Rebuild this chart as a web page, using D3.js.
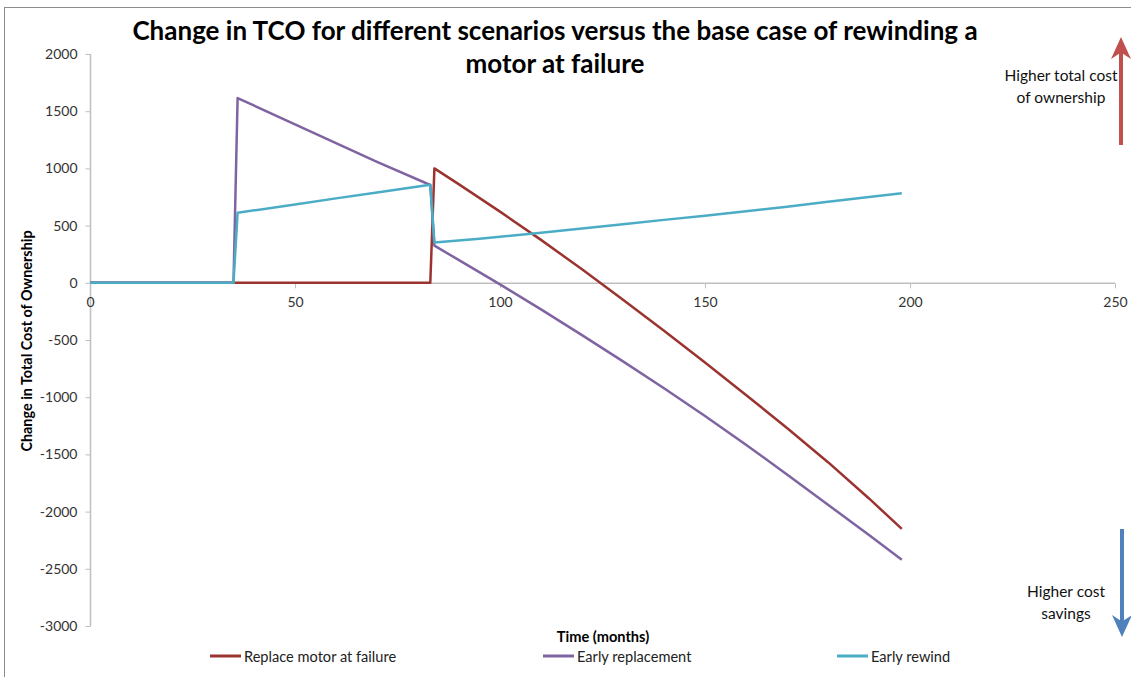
<!DOCTYPE html>
<html>
<head>
<meta charset="utf-8">
<script src="https://cdn.jsdelivr.net/npm/d3@7"></script>
<style>
  html, body { margin: 0; padding: 0; background: #fff; }
  svg { display: block; font-family: Lato, "Open Sans", sans-serif; }
</style>
</head>
<body>
<svg id="chart" width="1131" height="677"></svg>
<script>
// ---- data ----
const seriesNames = ["Replace motor at failure", "Early replacement", "Early rewind"];
const replaceX = [0, 83, 84, 90, 100, 110, 120, 130, 140, 150, 160, 170, 180, 190, 198];
const replaceY = [0, 0, 1000, 860, 622, 375, 118, -148, -420, -697, -980, -1270, -1568, -1885, -2151];
const earlyReplX = [0, 35, 36, 50, 60, 70, 83, 84, 90, 100, 110, 120, 130, 140, 150, 160, 170, 180, 190, 198];
const earlyReplY = [0, 0, 1615, 1385, 1220, 1058, 855, 325, 198, -14, -232, -457, -687, -922, -1165, -1415, -1675, -1940, -2205, -2420];
const rewindX = [0, 35, 36, 50, 60, 70, 83, 84, 95, 110, 120, 130, 140, 150, 160, 170, 180, 190, 198];
const rewindY = [0, 0, 612, 685, 738, 790, 858, 352, 384, 437, 474, 512, 550, 586, 625, 665, 708, 750, 783];
const xTicks = [0, 50, 100, 150, 200, 250];
const yTicks = [2000, 1500, 1000, 500, 0, -500, -1000, -1500, -2000, -2500, -3000];
const titleLines = ["Change in TCO for different scenarios versus the base case of rewinding a", "motor at failure"];
const colors = ["#9b3430", "#8064a2", "#4bacc6"];

const svg = d3.select("#chart");

// outer chart border (cropped)
svg.append("rect").attr("x", 4.5).attr("y", 7.5).attr("width", 1200).attr("height", 700)
  .attr("fill", "none").attr("stroke", "#8c8c8c").attr("stroke-width", 1);

const x = d3.scaleLinear().domain([0, 250]).range([90, 1115]);
const y = d3.scaleLinear().domain([-3000, 2000]).range([626, 54]);

// axes
const fmt = d => String(d);
const xAxis = d3.axisBottom(x).tickValues(xTicks).tickSize(5).tickPadding(9).tickFormat(fmt);
const yAxis = d3.axisLeft(y).tickValues(yTicks).tickSize(5).tickPadding(8).tickFormat(fmt);

const gy = svg.append("g").attr("transform", "translate(90.5,0)").call(yAxis);
const gx = svg.append("g").attr("transform", `translate(0,${y(0) + 0.5})`).call(xAxis);
[gx, gy].forEach(g => {
  g.select(".domain").attr("stroke", "#bfbfbf").attr("stroke-width", 1.5);
  g.selectAll(".tick line").attr("stroke", "#bfbfbf");
  g.selectAll(".tick text").attr("fill", "#333").style("font-size", "14px")
    .style("font-family", "Lato, 'Open Sans', sans-serif");
});
gx.select(".domain").attr("d", `M${x(0)},0H${x(250)}`);
gy.select(".domain").attr("d", `M0,${y(2000)}V${y(-3000)}`);

// lines
const line = d3.line().x(d => x(d[0])).y(d => y(d[1]));
const data = [
  d3.zip(replaceX, replaceY),
  d3.zip(earlyReplX, earlyReplY),
  d3.zip(rewindX, rewindY)
];
data.forEach((pts, i) => {
  svg.append("path").datum(pts).attr("d", line)
    .attr("fill", "none").attr("stroke", colors[i]).attr("stroke-width", 2.5)
    .attr("stroke-linejoin", "round");
});

// title
titleLines.forEach((t, i) => {
  svg.append("text").attr("x", 555).attr("y", 40 + i * 33).attr("text-anchor", "middle")
    .style("font-size", "26px").style("font-weight", "bold").attr("fill", "#000").text(t);
});

// axis titles
svg.append("text").attr("transform", "translate(32,341) rotate(-90)").attr("text-anchor", "middle")
  .style("font-size", "14.4px").style("font-weight", "bold").text("Change in Total Cost of Ownership");
svg.append("text").attr("x", 603).attr("y", 642).attr("text-anchor", "middle")
  .style("font-size", "14.6px").style("font-weight", "bold").text("Time (months)");

// legend
const legendX = [210, 543, 837];
seriesNames.forEach((n, i) => {
  svg.append("line").attr("x1", legendX[i]).attr("x2", legendX[i] + 31).attr("y1", 656).attr("y2", 656)
    .attr("stroke", colors[i]).attr("stroke-width", 3);
  svg.append("text").attr("x", legendX[i] + 34).attr("y", 661.5).style("font-size", "14.6px")
    .attr("fill", "#222").text(n);
});

// annotation arrows
function arrow(x0, y0, y1, color) {
  const dir = y1 < y0 ? -1 : 1;
  const headLen = 22, headW = 10;
  const g = svg.append("g");
  g.append("line").attr("x1", x0).attr("x2", x0).attr("y1", y0).attr("y2", y1 - dir * headLen * 0.6)
    .attr("stroke", color).attr("stroke-width", 4);
  g.append("path").attr("d", `M${x0},${y1} L${x0 - headW},${y1 - dir * headLen} L${x0},${y1 - dir * headLen * 0.7} L${x0 + headW},${y1 - dir * headLen} Z`)
    .attr("fill", color);
}
arrow(1121, 145, 37, "#c0504d");
arrow(1122, 529, 637, "#4f81bd");

// annotation texts
[["Higher total cost", 1061, 81], ["of ownership", 1061, 103], ["Higher cost", 1066, 597], ["savings", 1066, 619]]
  .forEach(([t, tx, ty]) => {
    svg.append("text").attr("x", tx).attr("y", ty).attr("text-anchor", "middle")
      .style("font-size", "15.5px").attr("fill", "#111").text(t);
  });
</script>
</body>
</html>
